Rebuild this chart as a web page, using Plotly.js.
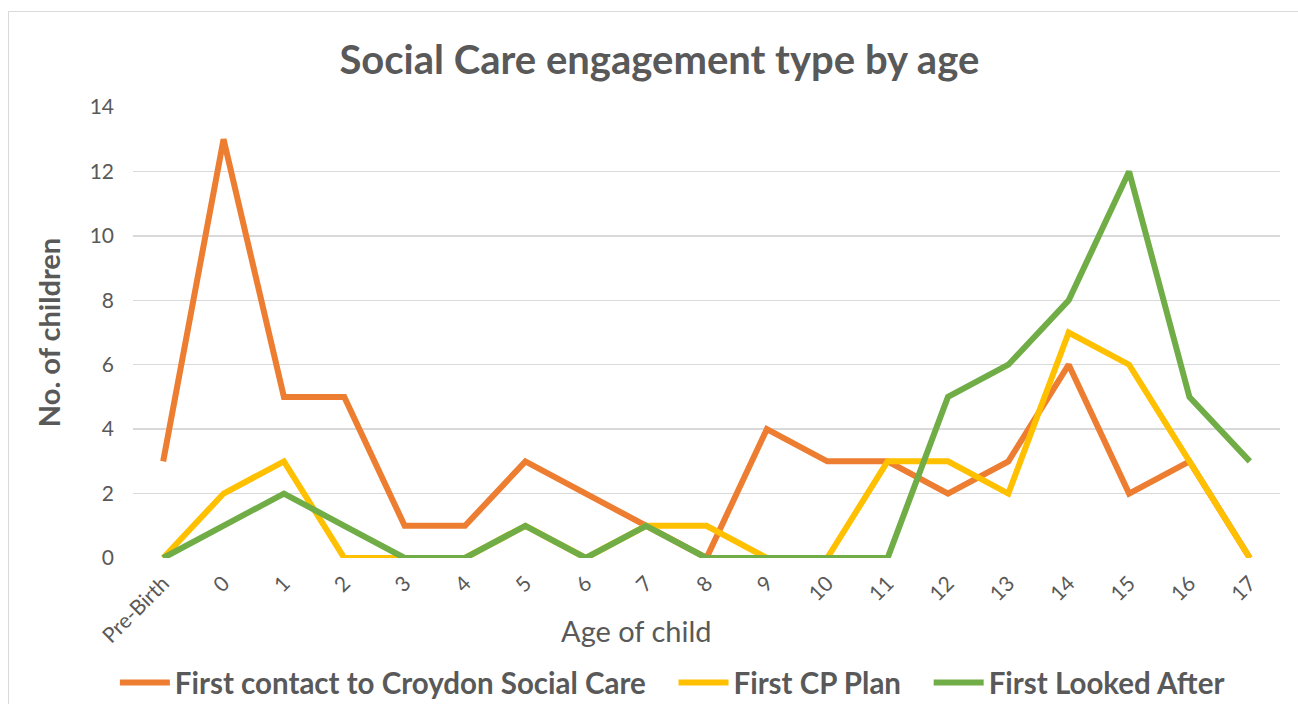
<!DOCTYPE html>
<html>
<head>
<meta charset="utf-8">
<script src="https://cdn.plot.ly/plotly-3.0.1.min.js"></script>
<style>
html,body{margin:0;padding:0;background:#fff;}
#frame{position:absolute;left:8px;top:11px;width:1300px;height:700px;border:1px solid #d9d9d9;box-sizing:border-box;}
#chart{position:absolute;left:0;top:0;width:1298px;height:704px;}
</style>
</head>
<body>
<div id="frame"></div>
<div id="chart"></div>
<script>
const categories = ["Pre-Birth","0","1","2","3","4","5","6","7","8","9","10","11","12","13","14","15","16","17"];
const firstContact = [3,13,5,5,1,1,3,2,1,0,4,3,3,2,3,6,2,3,0];
const firstCPPlan = [0,2,3,0,0,0,1,0,1,1,0,0,3,3,2,7,6,3,0];
const firstLookedAfter = [0,1,2,1,0,0,1,0,1,0,0,0,0,5,6,8,12,5,3];
const yTicks = [0,2,4,6,8,10,12,14];

const font = "Lato, 'Open Sans', sans-serif";
const grey = "#595959";

const traces = [
  {x: categories, y: firstContact, name: "<b>First contact to Croydon Social Care</b>&nbsp;&nbsp;&nbsp;", type: "scatter", mode: "lines",
   line: {color: "#ED7D31", width: 6}},
  {x: categories, y: firstCPPlan, name: "<b>First CP Plan</b>&nbsp;&nbsp;&nbsp;", type: "scatter", mode: "lines",
   line: {color: "#FFC000", width: 6}},
  {x: categories, y: firstLookedAfter, name: "<b>First Looked After</b>", type: "scatter", mode: "lines",
   line: {color: "#70AD47", width: 6}}
];

const layout = {
  width: 1298, height: 704,
  paper_bgcolor: "rgba(0,0,0,0)", plot_bgcolor: "rgba(0,0,0,0)",
  margin: {l: 133, r: 18, t: 107, b: 146},
  font: {family: font, color: grey},
  title: {text: "<b>Social Care engagement type by age</b>", font: {size: 40, color: grey, family: font},
          x: 0.508, xanchor: "center", y: 0.915, yanchor: "middle", automargin: false},
  xaxis: {type: "category", range: [-0.5, 18.5], tickangle: -45, showgrid: false, zeroline: false,
          showline: false, ticks: "", tickfont: {size: 21, color: grey}, automargin: false, ticklabelstandoff: 8},
  yaxis: {range: [0, 14], tickvals: yTicks, showgrid: true, gridcolor: "#d9d9d9", gridwidth: 1.5,
          zeroline: false, showline: false, ticks: "", tickfont: {size: 21, color: grey}, automargin: false,
          ticklabelstandoff: 18,
          title: {text: "<b>No. of children</b>", font: {size: 29, color: grey}, standoff: 20}},
  annotations: [
    {text: "Age of child", xref: "paper", yref: "paper", x: 0.4385, y: -0.16, xanchor: "center", yanchor: "middle",
     showarrow: false, font: {size: 29, color: grey, family: font}}
  ],
  showlegend: true,
  legend: {orientation: "h", x: 0.518, xanchor: "center", xref: "container", y: 0.03, yref: "container", yanchor: "middle",
           font: {size: 29.5, color: grey, family: font}, itemwidth: 50, traceorder: "normal"}
};

Plotly.newPlot("chart", traces, layout, {displayModeBar: false, staticPlot: true});
</script>
</body>
</html>
